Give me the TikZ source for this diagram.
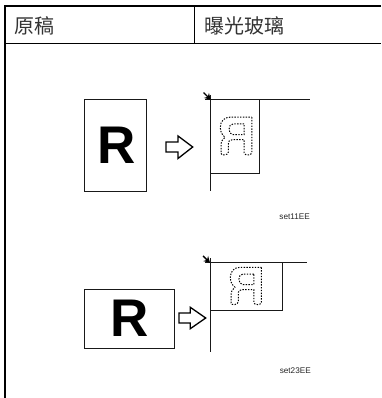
\documentclass[tikz,border=0pt]{standalone}
\usepackage{fontspec}
\setmainfont{Liberation Sans}
\newfontfamily\cjkfont{Noto Sans CJK SC}
\usetikzlibrary{arrows.meta}
\tikzset{
  tableline/.style={line width=1.5pt,black},
  thinline/.style={line width=1pt,black!90},
  bigarrow/.style={line width=1.3pt,black,line join=miter},
  ghost/.style={line width=1pt,black,dash pattern=on 1.4pt off 1.4pt},
  corner/.style={line width=1.4pt,black,-{Stealth[length=6pt,width=7pt]}},
  head/.style={inner sep=0pt,anchor=west,font=\cjkfont\fontsize{20}{20}\selectfont,text=black!80},
  bigr/.style={inner sep=0pt,font=\bfseries\fontsize{53}{53}\selectfont},
  tag/.style={inner sep=0pt,anchor=east,font=\fontsize{8.2}{9}\selectfont,text=black!85}
}
% mirrored R outline; unit box 94x114 (zoom units), origin at top left
\newcommand{\ghostR}[3]{%
  \begin{scope}[shift={(#1,#2)},x=#3pt,y=-#3pt]
    \draw[ghost] (92,0) -- (92,106) .. controls (92,114) and (70,116) .. (69,106)
      -- (69,67) -- (34,67) .. controls (25,67) and (22,72) .. (22,82)
      -- (22,104) .. controls (22,114) and (0,116) .. (0,108)
      -- (0,84) .. controls (0,72) and (6,64) .. (12,60)
      .. controls (2,52) and (-2,42) .. (-2,30) .. controls (-2,12) and (10,0) .. (26,0) -- cycle;
    \draw[ghost] (69,20) -- (36,20) .. controls (20,20) and (20,52) .. (36,52) -- (69,52) -- cycle;
  \end{scope}}
\begin{document}
\begin{tikzpicture}[x=1pt,y=-1pt]
\useasboundingbox (0,0) rectangle (381,398);
% table
\draw[tableline] (381,6) -- (5,6) -- (5,398);
\draw[tableline] (5,43.3) -- (381,43.3);
\draw[tableline] (194.3,6) -- (194.3,43.3);
\node[head] (h1) at (14,25.5) {原稿};
\node[head] (h2) at (204,25.5) {曝光玻璃};
% first pair
\draw[thinline] (84.5,99.5) rectangle (146,191);
\node[bigr] (r1) at (116.2,145) {R};
\draw[bigarrow] (166,142) -- (178,142) -- (178,136) -- (192.7,147) -- (178,158.5) -- (178,152) -- (166,152) -- cycle;
\draw[thinline] (210.7,95) -- (210.7,191);
\draw[thinline] (205,99.7) -- (310,99.7);
\draw[thinline] (210.7,99.7) -- (259.3,99.7) -- (259.3,173) -- (210.7,173);
\coordinate (c1s) at (203.5,92.5);
\coordinate (c1e) at (210.7,99.7);
\draw[corner] (c1s) -- (c1e);
\ghostR{221}{117.2}{0.335}
\node[tag] (t1) at (310,216.7) {set11EE};
% second pair
\draw[thinline] (84.3,289) rectangle (174.3,348.7);
\node[bigr] (r2) at (129.5,318.7) {R};
\draw[bigarrow] (179,313) -- (190.3,313) -- (190.3,307.3) -- (205.7,318) -- (190.3,328.7) -- (190.3,323) -- (179,323) -- cycle;
\draw[thinline] (210,258) -- (210,352);
\draw[thinline] (205,262.7) -- (307.3,262.7);
\draw[thinline] (282.3,262.7) -- (282.3,310.3) -- (210,310.3);
\coordinate (c2s) at (203,256);
\coordinate (c2e) at (210,262.7);
\draw[corner] (c2s) -- (c2e);
\ghostR{231}{267.4}{0.33}
\node[tag] (t2) at (311,371) {set23EE};
\end{tikzpicture}
\end{document}
